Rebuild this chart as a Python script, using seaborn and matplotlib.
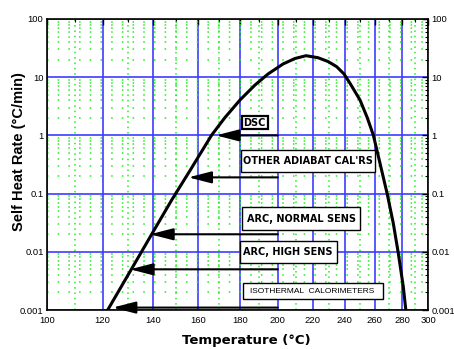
import numpy as np
import pandas as pd
import matplotlib
matplotlib.use("Agg")
import matplotlib.pyplot as plt
from matplotlib.patches import Rectangle
from matplotlib.ticker import FixedLocator, LogLocator, NullFormatter, FixedFormatter
import seaborn as sns

# Self heat rate curve (°C/min) against temperature (°C)
temp_c = [121.58, 128.71, 135.15, 140.25, 148.11, 156.24, 166.29, 172.68, 180.12,
          187.82, 194.70, 202.90, 209.67, 216.04, 223.19, 229.32, 234.77, 239.43,
          243.33, 249.96, 254.70, 259.05, 263.75, 268.96, 273.32, 277.02, 280.75,
          282.80]
rate = [0.000935, 0.003251, 0.00965, 0.02233, 0.07763, 0.2493, 1.016, 2.030, 4.058,
        7.343, 11.35, 16.86, 20.96, 23.41, 21.63, 18.61, 15.15, 11.35,
        7.856, 4.058, 2.071, 1.016, 0.3316, 0.09727, 0.03088, 0.009424, 0.002515,
        0.000935]

# Detection limits of each technique: rate level and temperature where it meets the curve
arrow_rates = [1.0, 0.19, 0.02, 0.005, 0.0011]
arrow_tip_temps = [168.3, 155.5, 138.9, 130.7, 123.9]
arrow_start_temp = 200.0
labels = ["DSC", "OTHER ADIABAT CAL'RS", "ARC, NORMAL SENS", "ARC, HIGH SENS",
          "ISOTHERMAL  CALORIMETERS"]

x_ticks = [100, 120, 140, 160, 180, 200, 220, 240, 260, 280, 300]
y_ticks = [0.001, 0.01, 0.1, 1, 10, 100]
y_tick_labels = ["0.001", "0.01", "0.1", "1", "10", "100"]

sns.set_style("white")
plt.rcParams["font.family"] = ["Liberation Sans Narrow", "Liberation Sans", "DejaVu Sans"]
plt.rcParams["text.color"] = "black"
plt.rcParams["axes.labelcolor"] = "black"

fig = plt.figure(figsize=(4.54, 3.49), dpi=100)
ax = fig.add_axes([47 / 454, 1 - 310 / 349, 381 / 454, 291 / 349])

df = pd.DataFrame({"T": temp_c, "rate": rate})
sns.lineplot(data=df, x="T", y="rate", ax=ax, color="black", linewidth=2.2,
             estimator=None, sort=False, zorder=5,
             solid_joinstyle="round", solid_capstyle="round")


# Arrhenius-style temperature axis: linear in -1/T (kelvin)
def fwd(t):
    return -1000.0 / (np.asarray(t, dtype=float) + 273.15)


def inv(u):
    return -1000.0 / np.asarray(u, dtype=float) - 273.15


ax.set_xscale("function", functions=(fwd, inv))
ax.set_yscale("log")
ax.set_xlim(100, 300)
ax.set_ylim(0.001, 100)

ax.xaxis.set_major_locator(FixedLocator(x_ticks))
ax.xaxis.set_major_formatter(FixedFormatter([str(v) for v in x_ticks]))
ax.xaxis.set_minor_locator(FixedLocator([v + 10 for v in x_ticks[:-1]]))
ax.xaxis.set_minor_formatter(NullFormatter())
ax.yaxis.set_major_locator(FixedLocator(y_ticks))
ax.yaxis.set_major_formatter(FixedFormatter(y_tick_labels))
ax.yaxis.set_minor_locator(LogLocator(base=10, subs=np.arange(2, 10)))
ax.yaxis.set_minor_formatter(NullFormatter())

# grids: solid blue at decades / 20 °C, sparse green dots at minor positions
ax.grid(which="major", color="#3c3cff", linewidth=1.2, linestyle="-", zorder=1)
ax.grid(which="minor", axis="y", color="#22ee22", linewidth=1.1,
        linestyle=(0, (1, 6)), zorder=1)
ax.grid(which="minor", axis="x", color="#22ee22", linewidth=1.1,
        linestyle=(0, (1, 2.5)), zorder=1)
ax.set_axisbelow(True)

ax.tick_params(which="both", direction="in", top=True, right=True,
               labelright=True, labelsize=6.8, colors="black")
ax.tick_params(axis="x", pad=4)
ax.tick_params(axis="y", pad=2.5)
ax.tick_params(which="major", length=4, width=1)
ax.tick_params(which="minor", length=2.5, width=0.8)
for s in ax.spines.values():
    s.set_color("black")
    s.set_linewidth(1.2)

ax.set_xlabel("Temperature (°C)", fontsize=9.5, fontweight="bold",
              family=["DejaVu Sans"])
ax.xaxis.set_label_coords(0.522, -0.083)
ax.set_ylabel("Self Heat Rate (°C/min)", fontsize=10.5, fontweight="bold",
              family=["Liberation Sans Narrow", "Liberation Sans", "DejaVu Sans"])
ax.yaxis.set_label_coords(-0.055, 0.545)

# arrows from 200 °C back to the curve
for r, t_tip in zip(arrow_rates, arrow_tip_temps):
    ax.annotate("", xy=(t_tip, r), xytext=(arrow_start_temp, r),
                arrowprops=dict(arrowstyle="-|>,head_length=1.4,head_width=0.36",
                                mutation_scale=10, color="black", lw=1.5,
                                shrinkA=0, shrinkB=0), zorder=6)

# label boxes (axes fraction centers and sizes)
box_cx = [0.545, 0.685, 0.667, 0.633, 0.697]
box_cy = [0.644, 0.512, 0.314, 0.198, 0.064]
box_w = [26 / 381, 134 / 381, 118 / 381, 97 / 381, 140 / 381]
box_h = [13 / 291, 22 / 291, 23 / 291, 22 / 291, 16 / 291]
box_lw = [1.6, 1.0, 1.0, 1.0, 1.0]
font_sz = [7.0, 7.0, 7.0, 7.0, 6.0]
font_wt = ["bold", "bold", "bold", "bold", "normal"]
font_fam = [["Liberation Sans Narrow", "DejaVu Sans"]] * 4 + [["Liberation Sans", "DejaVu Sans"]]

for lab, cx, cy, w, h, lw, fs, fw, ff in zip(labels, box_cx, box_cy, box_w, box_h,
                                             box_lw, font_sz, font_wt, font_fam):
    ax.add_patch(Rectangle((cx - w / 2, cy - h / 2), w, h, transform=ax.transAxes,
                           facecolor="white", edgecolor="black", linewidth=lw,
                           zorder=7))
    ax.text(cx, cy, lab, transform=ax.transAxes, ha="center", va="center",
            fontsize=fs, fontweight=fw, family=ff, zorder=8)

fig.savefig("out.png", dpi=100)
